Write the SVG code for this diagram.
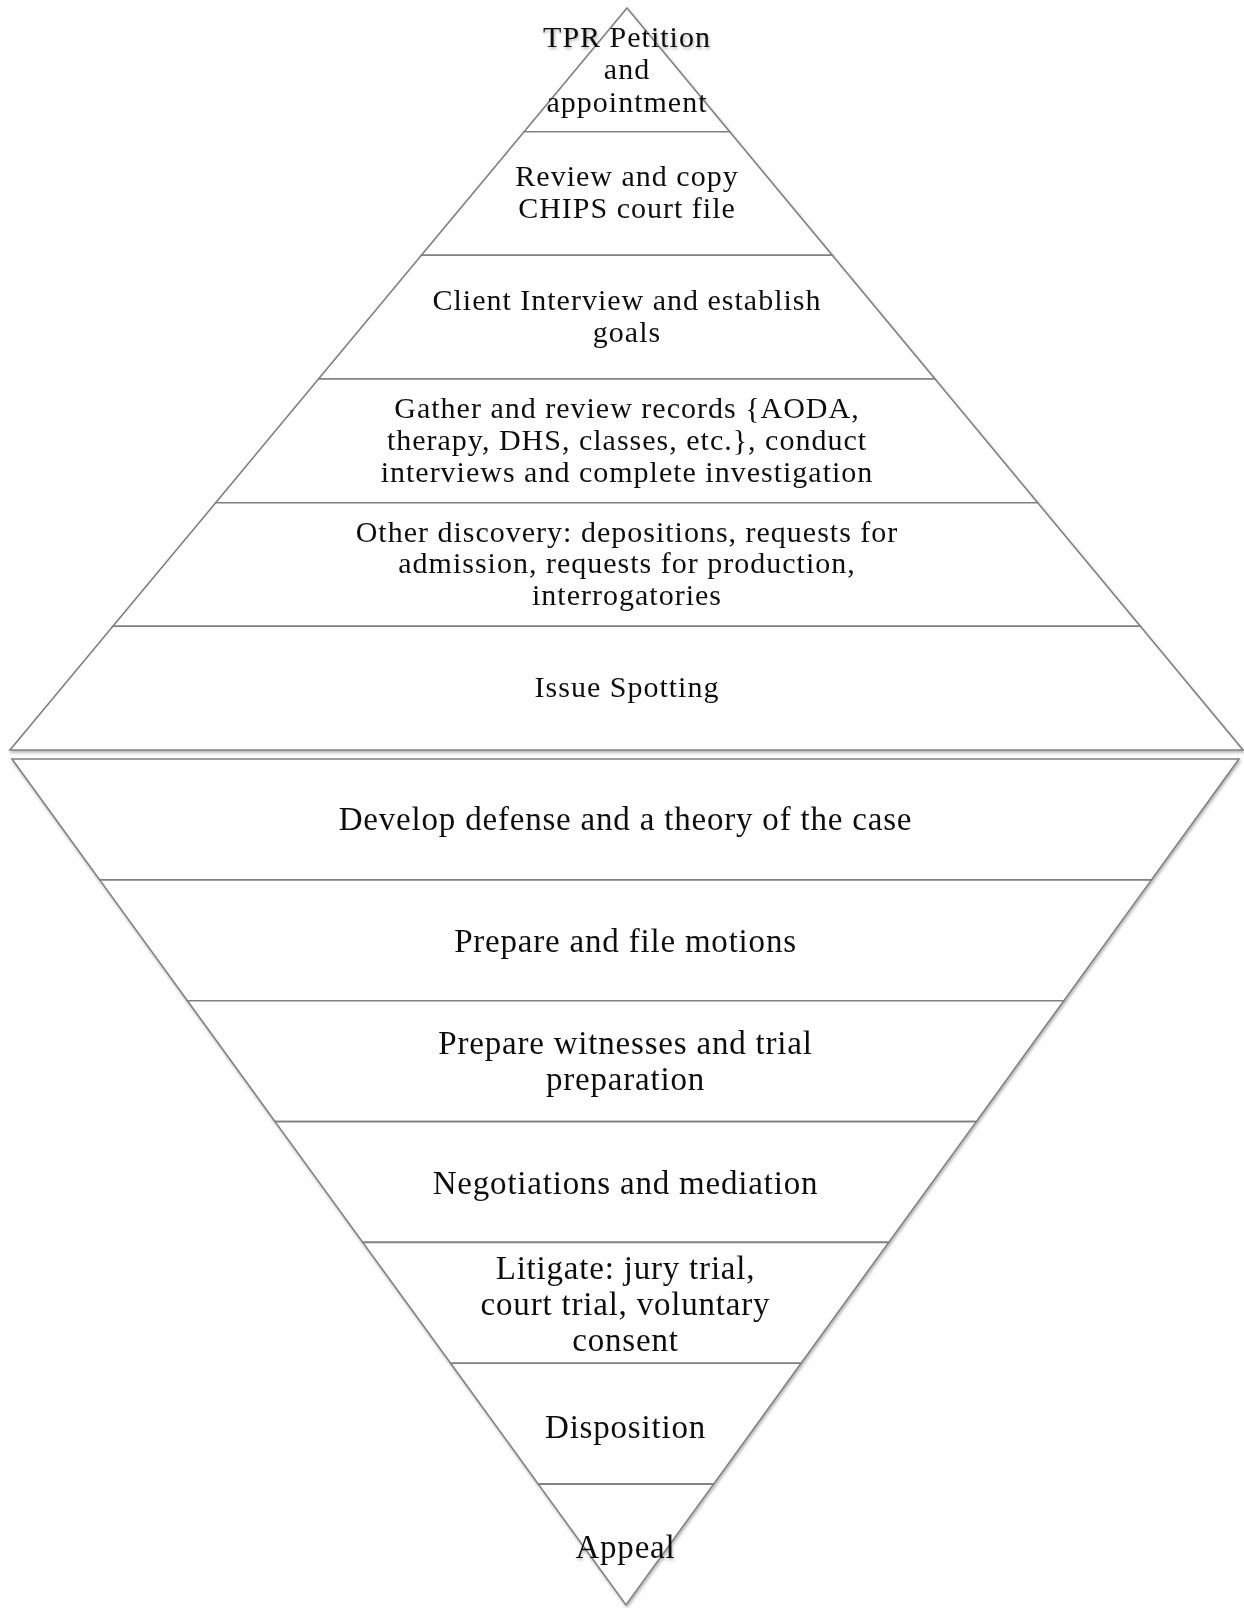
<svg xmlns="http://www.w3.org/2000/svg" width="1244" height="1608" viewBox="0 0 1244 1608">
<defs>
<filter id="sh" x="-5%" y="-5%" width="110%" height="110%">
<feDropShadow dx="1" dy="2" stdDeviation="1.5" flood-color="#000" flood-opacity="0.3"/>
</filter>
<style>
.band{fill:#fff;stroke:#808080;stroke-width:1.6;stroke-linejoin:miter}
.u{font-family:"Liberation Serif","DejaVu Serif",serif;font-size:30px;letter-spacing:1px;fill:#111;text-anchor:middle}
.l{font-family:"Liberation Serif","DejaVu Serif",serif;font-size:33px;letter-spacing:0.8px;fill:#111;text-anchor:middle}
</style>
</defs>
<rect width="1244" height="1608" fill="#fff"/>
<g id="connectors"></g>
<g filter="url(#sh)">
<g id="u1"><polygon class="band" points="627,8 729.7,131.7 524.1,131.7"/>
<text class="u" x="627" y="46.7">TPR Petition</text><text class="u" x="627" y="79">and</text><text class="u" x="627" y="111.7">appointment</text></g>
<g id="u2"><polygon class="band" points="524.1,131.7 729.7,131.7 832.3,255.3 421.4,255.3"/>
<text class="u" x="627" y="185.5">Review and copy</text><text class="u" x="627" y="217.5">CHIPS court file</text></g>
<g id="u3"><polygon class="band" points="421.4,255.3 832.3,255.3 935,379 318.5,379"/>
<text class="u" x="627" y="309.5">Client Interview and establish</text><text class="u" x="627" y="341.5">goals</text></g>
<g id="u4"><polygon class="band" points="318.5,379 935,379 1037.7,502.7 215.7,502.7"/>
<text class="u" x="627" y="418.3">Gather and review records {AODA,</text><text class="u" x="627" y="450">therapy, DHS, classes, etc.}, conduct</text><text class="u" x="627" y="481.7">interviews and complete investigation</text></g>
<g id="u5"><polygon class="band" points="215.7,502.7 1037.7,502.7 1140.3,626.3 112.9,626.3"/>
<text class="u" x="627" y="541.7">Other discovery: depositions, requests for</text><text class="u" x="627" y="573.3">admission, requests for production,</text><text class="u" x="627" y="605">interrogatories</text></g>
<g id="u6"><polygon class="band" points="112.9,626.3 1140.3,626.3 1243,750 10,750"/>
<text class="u" x="627" y="697">Issue Spotting</text></g>

<g id="l1"><polygon class="band" points="12,759 1239,759 1151.4,879.9 99.7,879.9"/>
<text class="l" x="625.5" y="829.5">Develop defense and a theory of the case</text></g>
<g id="l2"><polygon class="band" points="99.7,879.9 1151.4,879.9 1063.9,1000.7 187.4,1000.7"/>
<text class="l" x="625.5" y="951.5">Prepare and file motions</text></g>
<g id="l3"><polygon class="band" points="187.4,1000.7 1063.9,1000.7 976.3,1121.6 275.1,1121.6"/>
<text class="l" x="625.5" y="1054">Prepare witnesses and trial</text><text class="l" x="625.5" y="1090">preparation</text></g>
<g id="l4"><polygon class="band" points="275.1,1121.6 976.3,1121.6 888.7,1242.4 362.8,1242.4"/>
<text class="l" x="625.5" y="1193.5">Negotiations and mediation</text></g>
<g id="l5"><polygon class="band" points="362.8,1242.4 888.7,1242.4 801.1,1363.3 450.6,1363.3"/>
<text class="l" x="625.5" y="1278.5">Litigate: jury trial,</text><text class="l" x="625.5" y="1314.5">court trial, voluntary</text><text class="l" x="625.5" y="1350.5">consent</text></g>
<g id="l6"><polygon class="band" points="450.6,1363.3 801.1,1363.3 713.6,1484.1 538.3,1484.1"/>
<text class="l" x="625.5" y="1437.5">Disposition</text></g>
<g id="l7"><polygon class="band" points="538.3,1484.1 713.6,1484.1 626,1605"/>
<text class="l" x="625.5" y="1558">Appeal</text></g>
</g>
</svg>
